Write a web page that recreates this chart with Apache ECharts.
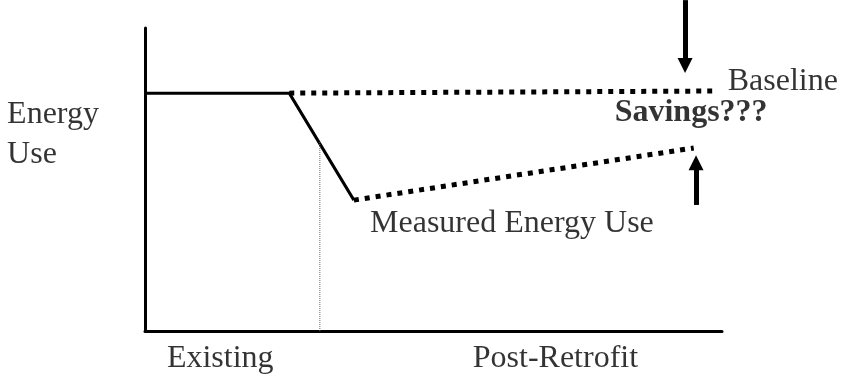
<!DOCTYPE html>
<html>
<head>
<meta charset="utf-8">
<script src="https://cdn.jsdelivr.net/npm/echarts@6/dist/echarts.min.js"></script>
<style>
  html, body { margin: 0; padding: 0; background: #fff; }
  #main { width: 846px; height: 381px; }
</style>
</head>
<body>
<div id="main"></div>
<script>
// schematic coords: x = time (0..100), y = energy use (0..100)
const existingUse = [[0, 78.5], [25, 78.5], [36.2, 43.2]];
const baselineUse = [[25, 78.5], [98.3, 79.2]];
const measuredUse = [[36.2, 43.2], [95.1, 60.4]];
const retrofitMark = [[30.3, 0], [30.3, 62.4]];
const savingsArrows = [
  [[93.6, 109.2], [93.6, 87.6]],
  [[95.5, 41.6], [95.5, 55.5]]
];
// text notes: [x, y, text, bold]
const notes = [
  [-23.9, 71.3, 'Energy', false],
  [-23.9, 58.1, 'Use', false],
  [101.0, 82.4, 'Baseline', false],
  [81.4, 72.0, 'Savings???', true],
  [39.0, 35.3, 'Measured Energy Use', false],
  [3.8, -9.2, 'Existing', false],
  [56.8, -9.2, 'Post-Retrofit', false]
];

const serif = "'Liberation Serif', 'Times New Roman', serif";
const chart = echarts.init(document.getElementById('main'), null, { renderer: 'canvas' });

const hiddenAxis = {
  type: 'value',
  min: 0,
  max: 100,
  axisLine: { show: true, lineStyle: { color: '#000', width: 3 } },
  axisTick: { show: false },
  axisLabel: { show: false },
  splitLine: { show: false }
};

chart.setOption({
  animation: false,
  backgroundColor: '#fff',
  grid: { left: 145, right: 124, top: 28, bottom: 50 },
  xAxis: Object.assign({}, hiddenAxis),
  yAxis: Object.assign({}, hiddenAxis, { axisLine: { show: true, onZero: false, lineStyle: { color: '#000', width: 3 } } }),
  series: [
    {
      name: 'Existing',
      type: 'line',
      data: existingUse,
      symbol: 'none',
      lineStyle: { color: '#000', width: 3 }
    },
    {
      name: 'Baseline',
      type: 'line',
      data: baselineUse,
      symbol: 'none',
      lineStyle: { color: '#000', width: 5, type: [5, 6], cap: 'butt' }
    },
    {
      name: 'Measured',
      type: 'line',
      data: measuredUse,
      symbol: 'none',
      lineStyle: { color: '#000', width: 5, type: [5, 6], cap: 'butt' }
    },
    {
      name: 'Retrofit',
      type: 'line',
      data: retrofitMark,
      symbol: 'none',
      lineStyle: { color: '#666', width: 1, type: [1, 1] }
    },
    {
      name: 'Arrows',
      type: 'lines',
      coordinateSystem: 'cartesian2d',
      clip: false,
      symbol: ['none', 'triangle'],
      symbolSize: [17, 15],
      lineStyle: { color: '#000', width: 5, opacity: 1 },
      itemStyle: { color: '#000' },
      data: savingsArrows.map(c => ({ coords: c }))
    },
    {
      name: 'Notes',
      type: 'scatter',
      clip: false,
      symbolSize: 0,
      silent: true,
      data: notes.map(n => ({
        value: [n[0], n[1]],
        name: n[2],
        label: { fontWeight: n[3] ? 'bold' : 'normal', color: '#000' }
      })),
      label: {
        show: true,
        position: 'right',
        distance: 0,
        formatter: p => p.name,
        color: '#000',
        textBorderWidth: 0,
        fontFamily: serif,
        fontSize: 32
      }
    }
  ]
});
</script>
</body>
</html>
